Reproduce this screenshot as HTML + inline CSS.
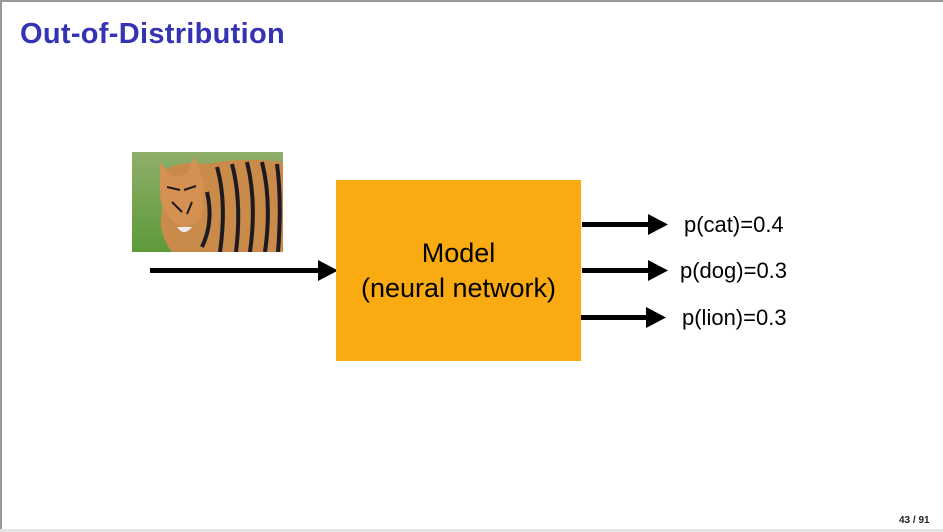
<!DOCTYPE html>
<html><head><meta charset="utf-8"><style>
html,body{margin:0;padding:0}
body{width:943px;height:532px;position:relative;overflow:hidden;background:#fff;font-family:"Liberation Sans",sans-serif}
.bt{position:absolute;left:0;top:0;width:943px;height:2px;background:#9a9a9a}
.bl{position:absolute;left:0;top:0;width:2px;height:532px;background:#9a9a9a}
.bb{position:absolute;left:0;top:529px;width:943px;height:3px;background:#e4e4e4}
h1{position:absolute;left:20px;top:18px;margin:0;font-size:29px;font-weight:bold;color:#3333b3;letter-spacing:0.3px}
.box{position:absolute;left:336px;top:180px;width:245px;height:181px;background:#fbab12;display:flex;align-items:center;justify-content:center;text-align:center;font-size:27px;line-height:35px;color:#000}
.lbl{position:absolute;font-size:22px;color:#000}
.pg{position:absolute;left:899px;top:515px;font-size:10px;font-weight:bold;color:#222}
</style></head><body>
<div class="bt"></div><div class="bl"></div><div class="bb"></div>
<h1>Out-of-Distribution</h1>
<svg style="position:absolute;left:132px;top:152px" width="151" height="100" viewBox="0 0 151 100">
<defs><linearGradient id="g" x1="0" y1="0" x2="0" y2="1"><stop offset="0" stop-color="#8fae6a"/><stop offset="1" stop-color="#5d9a3a"/></linearGradient></defs>
<rect width="151" height="100" fill="url(#g)"/>
<path d="M30 20 Q45 8 75 12 Q110 5 151 10 L151 100 L40 100 Q25 80 30 60 Z" fill="#c98a4a"/>
<path d="M28 10 L40 25 L55 22 L62 5 L72 30 L70 65 Q55 80 45 72 Q28 60 28 40 Z" fill="#d49152"/>
<g stroke="#1e1a22" stroke-width="4" fill="none">
<path d="M85 15 Q95 50 88 100"/><path d="M100 12 Q110 50 104 100"/><path d="M115 10 Q125 50 118 100"/><path d="M130 10 Q140 50 133 100"/><path d="M145 12 Q150 50 146 100"/><path d="M75 40 Q82 70 70 95"/>
</g>
<g stroke="#1e1a22" stroke-width="2"><path d="M35 35 L48 38"/><path d="M52 38 L64 34"/><path d="M40 50 L50 60"/><path d="M60 50 L55 62"/></g>
<path d="M45 75 Q52 85 60 75" fill="#eee"/>
</svg>
<svg style="position:absolute;left:0;top:0" width="943" height="532">
<g fill="#000">
<rect x="150" y="268" width="170" height="5"/><polygon points="318,260 338,270.5 318,281"/>
<rect x="582" y="222" width="68" height="5"/><polygon points="648,214 668,224.5 648,235"/>
<rect x="582" y="268" width="68" height="5"/><polygon points="648,260 668,270.5 648,281"/>
<rect x="580" y="315" width="68" height="5"/><polygon points="646,307 666,317.5 646,328"/>
</g></svg>
<div class="box">Model<br>(neural network)</div>
<div class="lbl" style="left:684px;top:212px">p(cat)=0.4</div>
<div class="lbl" style="left:680px;top:258px">p(dog)=0.3</div>
<div class="lbl" style="left:682px;top:305px">p(lion)=0.3</div>
<div class="pg">43 / 91</div>
</body></html>
